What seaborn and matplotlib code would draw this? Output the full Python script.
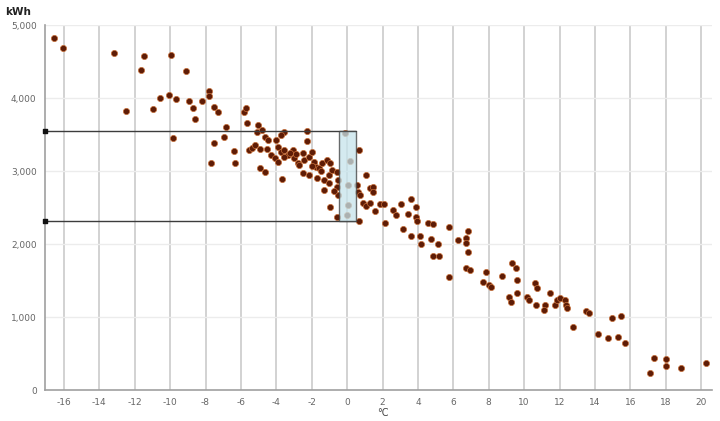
import matplotlib
matplotlib.use("Agg")
import matplotlib.pyplot as plt
import matplotlib.patches as mpatches
import seaborn as sns
import pandas as pd

# outdoor temperature (°C) vs daily consumption (kWh)
temp_c = [
    -16.56, -16.07, -13.17, -11.48, -9.96, -11.67, -9.09, -12.48, -10.96, -10.57,
    -10.09, -9.69, -8.96, -8.70, -8.59, -8.18, -7.80, -7.80, -7.52, -7.28,
    -6.87, -9.81, -6.96, -7.52, -6.41, -7.70, -6.32,
    -5.85, -5.70, -5.63, -5.02, -5.11, -4.83, -4.65, -4.46, -3.54, -3.72,
    -4.00, -2.28, -2.28, -5.57, -5.39, -5.20, -4.93, -4.28, -3.91, -3.72,
    -3.54, -3.35, -3.54, -3.07, -2.98, -4.93, -4.65, -3.67, -2.80, -2.52,
    -2.43, -2.15, -1.96, -1.87, -2.52, -2.15, -1.78, -1.59, -1.41, -1.13,
    -0.94, -1.69, -1.31, -1.31, -1.04, -0.85, -0.57, -0.52, -0.57, -0.52,
    -0.94, -0.57,
    -0.10, 0.15, 0.05, 0.05, -0.02,
    0.67, 1.09, 0.54, 0.63, 0.72, 1.28, 1.46, 1.46, 0.91, 1.09,
    1.28, 1.59, 1.83, 2.07, 0.69, 2.15, 2.57, 2.76, 3.07, 3.59,
    3.46, 3.87, 3.87, 3.93, 3.17, 3.59, 4.09, 4.19, 4.56, 4.85,
    4.76, 5.11, 4.85, 5.17, 5.78, 5.78, 6.28, 6.83, 6.74, 6.74,
    6.83, 6.74, 6.93, 7.85, 7.67, 8.04, 8.13, 8.74, 9.30, 9.52,
    9.61, 9.15, 9.61, 9.24, 10.17, 10.26, 10.63, 10.72, 10.67, 11.19,
    11.15, 11.46, 11.74, 11.83, 12.02, 12.30, 12.39, 12.44, 12.76, 13.50,
    13.68, 14.15, 14.74, 14.98, 15.29, 15.48, 15.72, 17.35, 17.13, 18.0,
    18.0, 18.86, 20.3,
    -4.1, -3.2, -2.7, -1.5, -1.0, -3.9, -2.9, -2.0, -0.75, -4.5,
]
kwh = [
    4818, 4689, 4612, 4575, 4594, 4384, 4374, 3822, 3849, 4000,
    4037, 3986, 3963, 3858, 3712, 3959, 4096, 4027, 3881, 3804,
    3603, 3452, 3466, 3388, 3278, 3105, 3114,
    3804, 3858, 3662, 3630, 3539, 3562, 3470, 3425, 3539, 3493,
    3425, 3553, 3416, 3288, 3310, 3356, 3297, 3219, 3333, 3264,
    3288, 3219, 3196, 3288, 3174, 3037, 2990, 2895, 3105, 3242,
    3150, 3196, 3264, 3128, 2968, 2945, 3059, 3037, 3105, 3150,
    3105, 2900, 2877, 2740, 2945, 3014, 2990, 2877, 2785, 2671,
    2511, 2374,
    3525, 3137, 2808, 2534, 2397,
    3288, 2945, 2808, 2717, 2671, 2762, 2785, 2717, 2557, 2521,
    2566, 2452, 2548, 2548, 2319, 2292, 2466, 2397, 2548, 2612,
    2406, 2502, 2365, 2319, 2201, 2110, 2110, 2000, 2283, 2274,
    2064, 2000, 1836, 1836, 2228, 1553, 2055, 2183, 2078, 2009,
    1895, 1667, 1644, 1621, 1484, 1438, 1415, 1566, 1735, 1667,
    1507, 1278, 1324, 1210, 1278, 1233, 1461, 1393, 1164, 1164,
    1096, 1324, 1164, 1233, 1256, 1233, 1164, 1119, 867, 1086,
    1059, 763, 708, 990, 721, 1014, 648, 442, 228, 419,
    329, 297, 365,
    3180, 3240, 3080, 3000, 2830, 3130, 3230, 3070, 2720, 3300,
]

# selected band around 0 °C
band_temp = [-0.45, 0.5]
band_kwh = [2310, 3550]

x_ticks = list(range(-16, 21, 2))
y_ticks = [0, 1000, 2000, 3000, 4000, 5000]

df = pd.DataFrame({"temp": temp_c, "kwh": kwh})

sns.set_style("white")
fig = plt.figure(figsize=(7.2, 4.21), dpi=100)
ax = fig.add_axes([0.0625, 0.0736, 0.9265, 0.867])

ax.set_xlim(-17.07, 20.62)
ax.set_ylim(0, 5000)

for t in x_ticks:
    ax.axvline(t, color="#cfcfcf", lw=1.3, zorder=0)
for v in y_ticks[1:]:
    ax.axhline(v, color="#ececec", lw=1.0, zorder=0)

sns.scatterplot(data=df, x="temp", y="kwh", ax=ax, s=20, color="#5e1c06",
                edgecolor="#c8703a", linewidth=0.5, zorder=3, legend=False)

# outline from axis to band + translucent band
x0 = ax.get_xlim()[0]
ax.plot([x0, band_temp[1]], [band_kwh[1]] * 2, color="#3c3c3c", lw=1.0, zorder=4)
ax.plot([x0, band_temp[1]], [band_kwh[0]] * 2, color="#3c3c3c", lw=1.0, zorder=4)
ax.add_patch(mpatches.Rectangle((band_temp[0], band_kwh[0]), band_temp[1] - band_temp[0],
                                band_kwh[1] - band_kwh[0], facecolor="#c6e4ec", alpha=0.75,
                                edgecolor="#3c3c3c", lw=1.0, zorder=4))
ax.scatter([x0] * 2, band_kwh, marker="s", s=9, color="#111111",
           zorder=5, clip_on=False)

ax.set_xticks(x_ticks)
ax.set_xticklabels([str(t) for t in x_ticks])
ax.set_yticks(y_ticks)
ax.set_yticklabels([f"{v:,}" for v in y_ticks])
ax.tick_params(axis="both", labelsize=6.5, colors="#666666", length=0, pad=6)
ax.set_xlabel("")
ax.set_ylabel("")

for side in ["top", "right"]:
    ax.spines[side].set_visible(False)
for side in ["left", "bottom"]:
    ax.spines[side].set_color("#a0a0a0")
    ax.spines[side].set_linewidth(1.2)

fig.text(5 / 720, 1 - 12 / 421, "kWh", fontsize=7.5, fontweight="bold",
         color="#222222", va="center", ha="left")
fig.text(383 / 720, 1 - 413 / 421, "°C", fontsize=7, color="#444444",
         va="center", ha="center")

fig.savefig("out.png", dpi=100)
